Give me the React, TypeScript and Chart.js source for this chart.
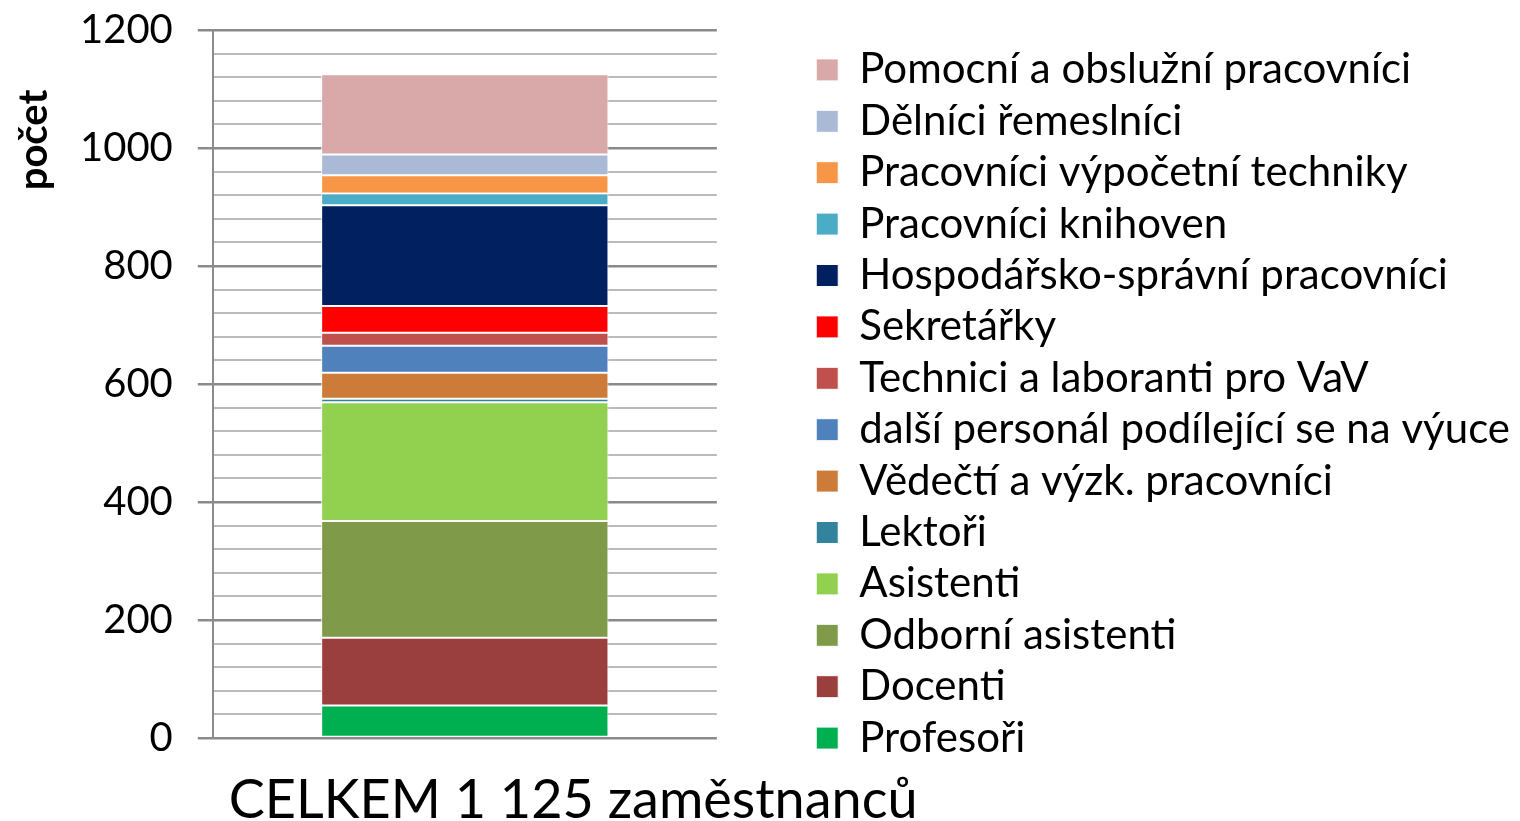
import React, { useEffect, useRef } from "react";
import { Chart, registerables } from "chart.js";

Chart.register(...registerables);

const categories = ["CELKEM"];
const seriesNames = [
  "Profesoři",
  "Docenti",
  "Odborní asistenti",
  "Asistenti",
  "Lektoři",
  "Vědečtí a výzk. pracovníci",
  "další personál podílející se na výuce",
  "Technici a laboranti pro VaV",
  "Sekretářky",
  "Hospodářsko-správní pracovníci",
  "Pracovníci knihoven",
  "Pracovníci výpočetní techniky",
  "Dělníci řemeslníci",
  "Pomocní a obslužní pracovníci",
];
const seriesValues = [55, 115, 198, 201, 6, 44, 46, 22, 45, 171, 20, 31, 35, 136];
const seriesColors = [
  "#00B050",
  "#9B3F3E",
  "#7F9A48",
  "#92D050",
  "#31849B",
  "#CC7B38",
  "#4F81BD",
  "#C0504D",
  "#FF0000",
  "#002060",
  "#4BACC6",
  "#F79646",
  "#AAB9D6",
  "#D9A8A8",
];
const yMax = 1200;
const yStep = 40;
const yLabelStep = 200;
const yTitle = "počet";
const xTitle = "CELKEM 1 125 zaměstnanců";

const FONT = "Lato";
const X_TITLE_SIZE = 54;
const X_TITLE_PAD = 33;

export default function App() {
  const ref = useRef<HTMLCanvasElement | null>(null);

  useEffect(() => {
    if (!ref.current) return;
    const titlesPlugin = {
      id: "titlesPlugin",
      afterDraw(chart: any) {
        const { ctx, chartArea } = chart;
        ctx.save();
        ctx.fillStyle = "#000";
        // y-axis title
        ctx.save();
        ctx.translate(34, chartArea.top + 110);
        ctx.rotate(-Math.PI / 2);
        ctx.textAlign = "center";
        ctx.textBaseline = "middle";
        ctx.font = `bold 40px ${FONT}`;
        ctx.fillText(yTitle, 0, 0);
        ctx.restore();
        // category caption below the axis
        ctx.textAlign = "left";
        ctx.textBaseline = "middle";
        ctx.font = `${X_TITLE_SIZE}px ${FONT}`;
        ctx.fillText(xTitle, chartArea.left + 16, chartArea.bottom + X_TITLE_PAD + X_TITLE_SIZE / 2 + 3);
        ctx.restore();
      },
    };

    const chart = new Chart(ref.current, {
      type: "bar",
      data: {
        labels: categories,
        datasets: seriesNames.map((name, i) => ({
          label: name,
          data: [seriesValues[i]],
          backgroundColor: seriesColors[i],
          borderColor: "#FFFFFF",
          borderWidth: 1,
          borderSkipped: false,
          barPercentage: 0.57,
          categoryPercentage: 1,
        })),
      },
      options: {
        animation: false,
        responsive: true,
        maintainAspectRatio: false,
        layout: { padding: { left: 55, top: -17, right: 0, bottom: -4 } },
        plugins: {
          tooltip: { enabled: false },
          legend: {
            position: "right",
            reverse: true,
            maxWidth: 800,
            labels: {
              boxWidth: 22,
              boxHeight: 22,
              padding: 9.4,
              color: "#000",
              font: { family: FONT, size: 42 },
            },
          },
        },
        scales: {
          x: {
            stacked: true,
            grid: { display: false, drawTicks: false },
            border: { display: false },
            ticks: { display: false },
            title: {
              display: true,
              text: " ",
              color: "rgba(0,0,0,0)",
              font: { family: FONT, size: X_TITLE_SIZE, lineHeight: 1 },
              padding: { top: X_TITLE_PAD, bottom: 0 },
            },
          },
          y: {
            stacked: true,
            min: 0,
            max: yMax,
            border: { display: true, color: "#8C8C8C", width: 2 },
            grid: {
              color: (c: any) => (c.tick && c.tick.value % yLabelStep === 0 ? "#8A8A8A" : "#BBBBBB"),
              lineWidth: (c: any) => (c.tick && c.tick.value % yLabelStep === 0 ? 2.5 : 2),
              tickColor: (c: any) => (c.tick && c.tick.value % yLabelStep === 0 ? "#8A8A8A" : "rgba(0,0,0,0)"),
              tickLength: 15,
              tickWidth: 2.5,
            },
            ticks: {
              stepSize: yStep,
              autoSkip: false,
              padding: 25,
              color: "#000",
              font: { family: FONT, size: 40 },
              callback: (v: any) => (Number(v) % yLabelStep === 0 ? String(v) : ""),
            },
            afterFit: (s: any) => {
              s.paddingTop = 30;
            },
          },
          gap: {
            type: "linear",
            position: "right",
            display: true,
            grid: { display: false, drawTicks: false },
            border: { display: false },
            ticks: { display: false },
            afterFit: (s: any) => {
              s.width = 90;
            },
          } as any,
        },
      },
      plugins: [titlesPlugin],
    } as any);
    return () => chart.destroy();
  }, []);

  return (
    <div style={{ position: "absolute", left: 0, top: 0, width: 1520, height: 821, background: "#fff" }}>
      <canvas ref={ref} />
    </div>
  );
}
